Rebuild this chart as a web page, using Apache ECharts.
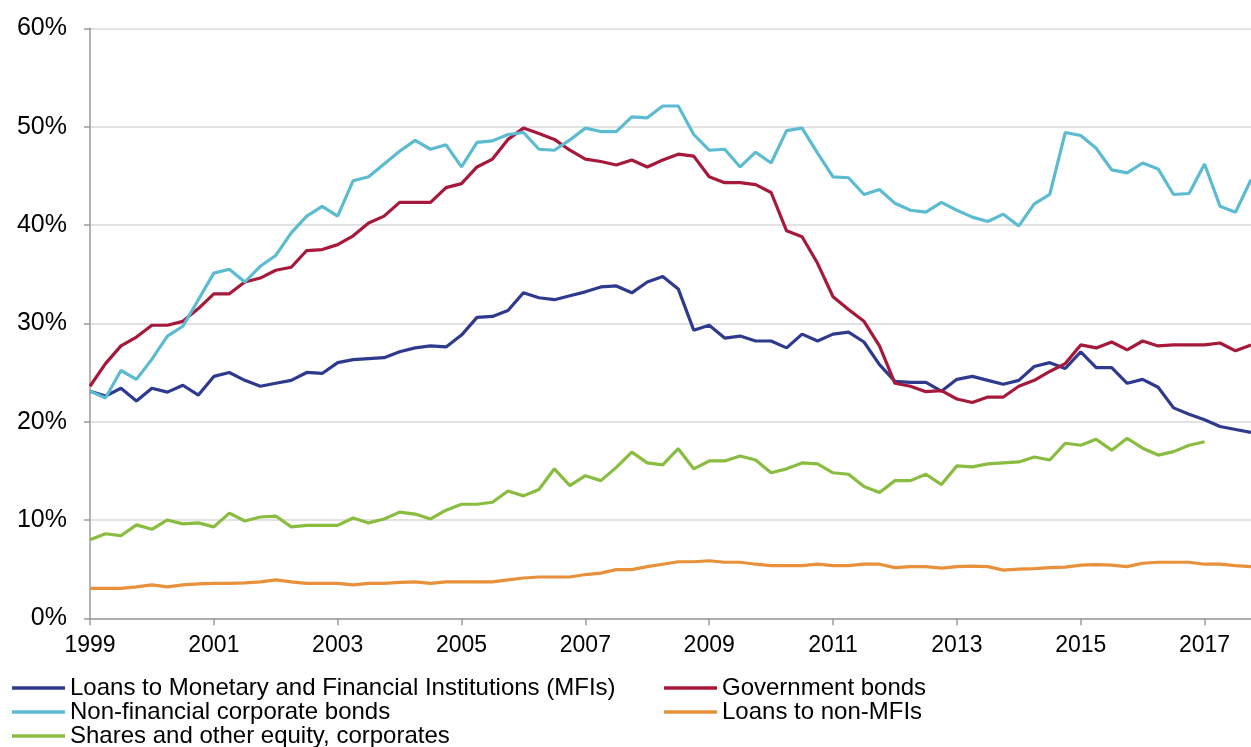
<!DOCTYPE html>
<html>
<head>
<meta charset="utf-8">
<script src="https://cdn.jsdelivr.net/npm/echarts@6/dist/echarts.min.js"></script>
<style>
html,body{margin:0;padding:0;background:#fff;}
#chart{width:1251px;height:747px;}
</style>
</head>
<body>
<div id="chart"></div>
<script>
// Quarterly observations 1999Q1 .. 2017Q4
const years = [1999,2000,2001,2002,2003,2004,2005,2006,2007,2008,2009,2010,2011,2012,2013,2014,2015,2016,2017];
const quarters = ['Q1','Q2','Q3','Q4'];
const categories = [];
years.forEach(y => quarters.forEach(q => categories.push(y + q)));

const seriesNames = [
  'Loans to Monetary and Financial Institutions (MFIs)',
  'Government bonds',
  'Non-financial corporate bonds',
  'Loans to non-MFIs',
  'Shares and other equity, corporates'
];

const loansMFI = [23.1,22.6,23.4,22.1,23.4,23.0,23.7,22.7,24.6,25.0,
  24.2,23.6,23.9,24.2,25.0,24.9,26.0,26.3,26.4,26.5,
  27.1,27.5,27.7,27.6,28.8,30.6,30.7,31.3,33.1,32.6,
  32.4,32.8,33.2,33.7,33.8,33.1,34.2,34.75,33.5,29.3,
  29.8,28.5,28.7,28.2,28.2,27.5,28.9,28.2,28.9,29.1,
  28.1,25.8,24.1,24.0,24.0,23.1,24.3,24.6,24.2,23.8,
  24.2,25.6,26.0,25.4,27.1,25.5,25.5,23.9,24.3,23.5,
  21.4,20.75,20.2,19.5,19.2,18.9];

const govBonds = [23.6,25.9,27.7,28.6,29.8,29.8,30.2,31.5,33.0,33.0,
  34.2,34.6,35.4,35.7,37.4,37.5,38.0,38.9,40.2,40.9,
  42.3,42.3,42.3,43.8,44.2,45.9,46.7,48.7,49.85,49.3,
  48.7,47.6,46.7,46.45,46.1,46.6,45.9,46.6,47.2,47.0,
  44.9,44.3,44.3,44.1,43.3,39.4,38.8,36.1,32.7,31.4,
  30.2,27.7,23.9,23.6,23.05,23.15,22.3,21.95,22.5,22.5,
  23.6,24.2,25.1,25.9,27.8,27.5,28.1,27.3,28.2,27.7,
  27.8,27.8,27.8,28.0,27.2,27.8];

const nfcBonds = [23.1,22.4,25.2,24.3,26.35,28.7,29.7,32.4,35.1,35.5,
  34.2,35.8,36.9,39.2,40.9,41.9,40.9,44.5,44.9,46.2,
  47.5,48.6,47.7,48.15,45.9,48.4,48.55,49.2,49.4,47.7,
  47.6,48.65,49.85,49.5,49.5,51.0,50.9,52.1,52.1,49.2,
  47.6,47.7,45.9,47.4,46.3,49.6,49.85,47.3,44.9,44.8,
  43.1,43.6,42.2,41.5,41.3,42.3,41.5,40.8,40.35,41.1,
  39.9,42.15,43.1,49.4,49.1,47.8,45.6,45.3,46.3,45.7,
  43.1,43.2,46.2,41.9,41.3,44.6];

const loansNonMFI = [3.05,3.05,3.05,3.2,3.4,3.2,3.4,3.5,3.55,3.55,
  3.6,3.7,3.9,3.7,3.55,3.55,3.55,3.4,3.55,3.55,
  3.65,3.7,3.55,3.7,3.7,3.7,3.7,3.9,4.1,4.2,
  4.2,4.2,4.45,4.6,4.95,4.95,5.25,5.5,5.75,5.75,
  5.85,5.7,5.7,5.5,5.35,5.35,5.35,5.5,5.35,5.35,
  5.5,5.5,5.15,5.25,5.25,5.1,5.25,5.3,5.25,4.9,
  5.0,5.05,5.15,5.2,5.4,5.45,5.4,5.25,5.6,5.7,
  5.7,5.7,5.5,5.5,5.35,5.25];

const sharesEquity = [8.0,8.6,8.4,9.5,9.05,10.0,9.6,9.7,9.3,10.7,
  9.9,10.3,10.4,9.3,9.45,9.45,9.45,10.2,9.7,10.1,
  10.8,10.6,10.1,11.0,11.6,11.6,11.8,12.95,12.45,13.1,
  15.2,13.5,14.5,14.0,15.35,16.9,15.8,15.6,17.25,15.2,
  16.0,16.0,16.5,16.1,14.8,15.2,15.8,15.7,14.8,14.65,
  13.4,12.8,14.0,14.0,14.65,13.6,15.5,15.4,15.7,15.8,
  15.9,16.4,16.1,17.8,17.6,18.2,17.1,18.3,17.3,16.6,
  16.95,17.6,17.95];

const colors = ['#2E3A8E','#A6193A','#5BBCD1','#E8913A','#88BD40'];
const dataList = [loansMFI, govBonds, nfcBonds, loansNonMFI, sharesEquity];

const FONT = "'Liberation Sans', Arial, sans-serif";
const chart = echarts.init(document.getElementById('chart'), null, {renderer:'canvas'});

const legendCommon = {
  orient: 'vertical',
  top: 676,
  height: 90,
  padding: 0,
  icon: 'rect',
  itemWidth: 53,
  itemHeight: 3.5,
  itemGap: 0,
  textStyle: {fontFamily: FONT, fontSize: 24, color: '#000', lineHeight: 23.5, padding: [0,0,0,0]}
};

chart.setOption({
  animation: false,
  color: colors,
  grid: {left: 90, top: 28.3, width: 1162, height: 590, containLabel: false},
  legend: [
    Object.assign({}, legendCommon, {left: 12, data: [seriesNames[0], seriesNames[2], seriesNames[4]]}),
    Object.assign({}, legendCommon, {left: 664, data: [seriesNames[1], seriesNames[3]]})
  ],
  xAxis: {
    type: 'category',
    data: categories,
    boundaryGap: false,
    axisLine: {show: true, lineStyle: {color: '#9a9a9a', width: 1.5}},
    axisTick: {show: true, interval: 7, length: 7, lineStyle: {color: '#9a9a9a', width: 1.5}},
    axisLabel: {
      interval: 7, margin: 16,
      fontFamily: FONT, fontSize: 23, color: '#000',
      formatter: v => v.slice(0, 4)
    },
    splitLine: {show: false}
  },
  yAxis: {
    type: 'value',
    min: 0, max: 60, interval: 10,
    axisLine: {show: true, lineStyle: {color: '#9a9a9a', width: 1.5}},
    axisTick: {show: true, length: 6, lineStyle: {color: '#9a9a9a', width: 1.5}},
    axisLabel: {formatter: '{value}%', margin: 23, fontFamily: FONT, fontSize: 25, color: '#000'},
    splitLine: {show: true, lineStyle: {color: '#d9d9d9', width: 1.5}}
  },
  series: seriesNames.map((name, i) => ({
    name: name,
    type: 'line',
    data: dataList[i],
    symbol: 'none',
    lineStyle: {width: 3.2, color: colors[i]},
    itemStyle: {color: colors[i]},
    emphasis: {disabled: true}
  }))
});
</script>
</body>
</html>
